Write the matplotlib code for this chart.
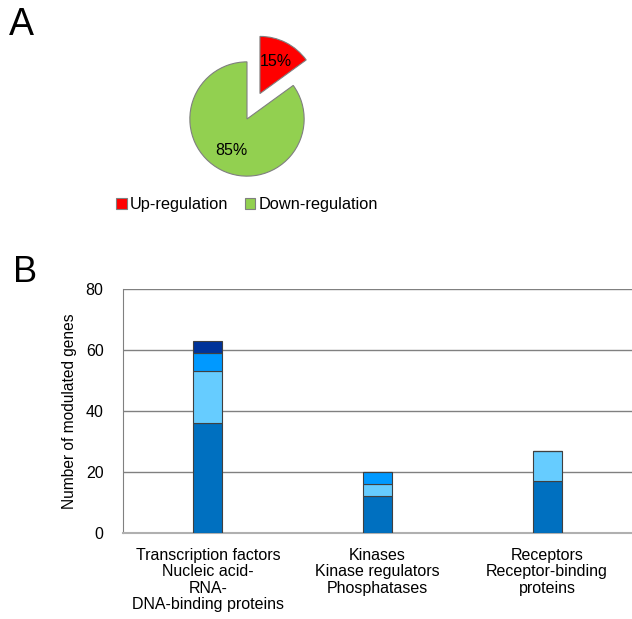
import matplotlib
matplotlib.use('Agg')
import matplotlib.pyplot as plt
from matplotlib.patches import Patch
import numpy as np

plt.rcParams['font.family'] = ['Liberation Sans', 'DejaVu Sans']

# pie data
pie_labels = ['Up-regulation', 'Down-regulation']
pie_values = [15, 85]
pie_colors = ['#FF0000', '#92D050']

# bar data
categories = ['Transcription factors\nNucleic acid-\nRNA-\nDNA-binding proteins',
              'Kinases\nKinase regulators\nPhosphatases',
              'Receptors\nReceptor-binding\nproteins']
seg1 = [36, 12, 17]
seg2 = [17, 4, 10]
seg3 = [6, 4, 0]
seg4 = [4, 0, 0]
seg_colors = ['#0070C0', '#66CCFF', '#0099FF', '#003399']

fig = plt.figure(figsize=(6.32, 6.19), dpi=100)

# A: pie
W, H = 632, 619
axp = fig.add_axes([147 / W, 1 - 219 / H, 200 / W, 200 / H])
wedges, texts, autotexts = axp.pie(pie_values, colors=pie_colors, startangle=90,
                                   counterclock=False, explode=[0.5, 0],
                                   autopct='%d%%', pctdistance=0.62,
                                   wedgeprops=dict(edgecolor='#7f7f7f', linewidth=0.8),
                                   textprops=dict(fontsize=11.5, color='black'))
axp.set_xlim(-1.75, 1.75)
axp.set_ylim(-1.75, 1.75)
axp.set_aspect('equal')
axp.axis('off')

handles = [Patch(facecolor=c, edgecolor='#7f7f7f', linewidth=0.8) for c in pie_colors]
fig.legend(handles, pie_labels, loc='center', bbox_to_anchor=(247 / W, 1 - 205 / H),
           ncol=2, frameon=False, fontsize=11.8, handlelength=0.65, handleheight=0.65,
           handletextpad=0.2, columnspacing=1.0)

fig.text(9 / W, 1 - 25 / H, 'A', fontsize=27, va='center')
fig.text(13 / W, 1 - 273 / H, 'B', fontsize=26, va='center')

# B: stacked bars
ax = fig.add_axes([123 / W, 1 - 533 / H, 509 / W, 244 / H])
x = np.arange(len(categories))
bottom = np.zeros(len(categories))
for vals, col in zip([seg1, seg2, seg3, seg4], seg_colors):
    vals = np.array(vals)
    ax.bar(x, vals, 0.17, bottom=bottom, color=col, edgecolor='#404040',
           linewidth=0.8, zorder=3)
    bottom += vals

ax.set_xlim(-0.5, 2.5)
ax.set_ylim(0, 80)
ax.set_yticks([0, 20, 40, 60, 80])
ax.set_xticks(x)
ax.set_xticklabels(categories, fontsize=11.5, linespacing=1.1)
ax.tick_params(axis='both', length=0, labelsize=11.5)
ax.tick_params(axis='x', pad=11)
ax.tick_params(axis='y', pad=14)
ax.grid(axis='y', color='#808080', linewidth=1.0, zorder=0)
ax.set_ylabel('Number of modulated genes', fontsize=11.2, labelpad=6)
for s in ['top', 'right']:
    ax.spines[s].set_visible(False)
ax.spines['left'].set_color('#808080')
ax.spines['bottom'].set_color('#b0b0b0')
ax.spines['bottom'].set_linewidth(1.5)

fig.savefig('out.png', dpi=100)
